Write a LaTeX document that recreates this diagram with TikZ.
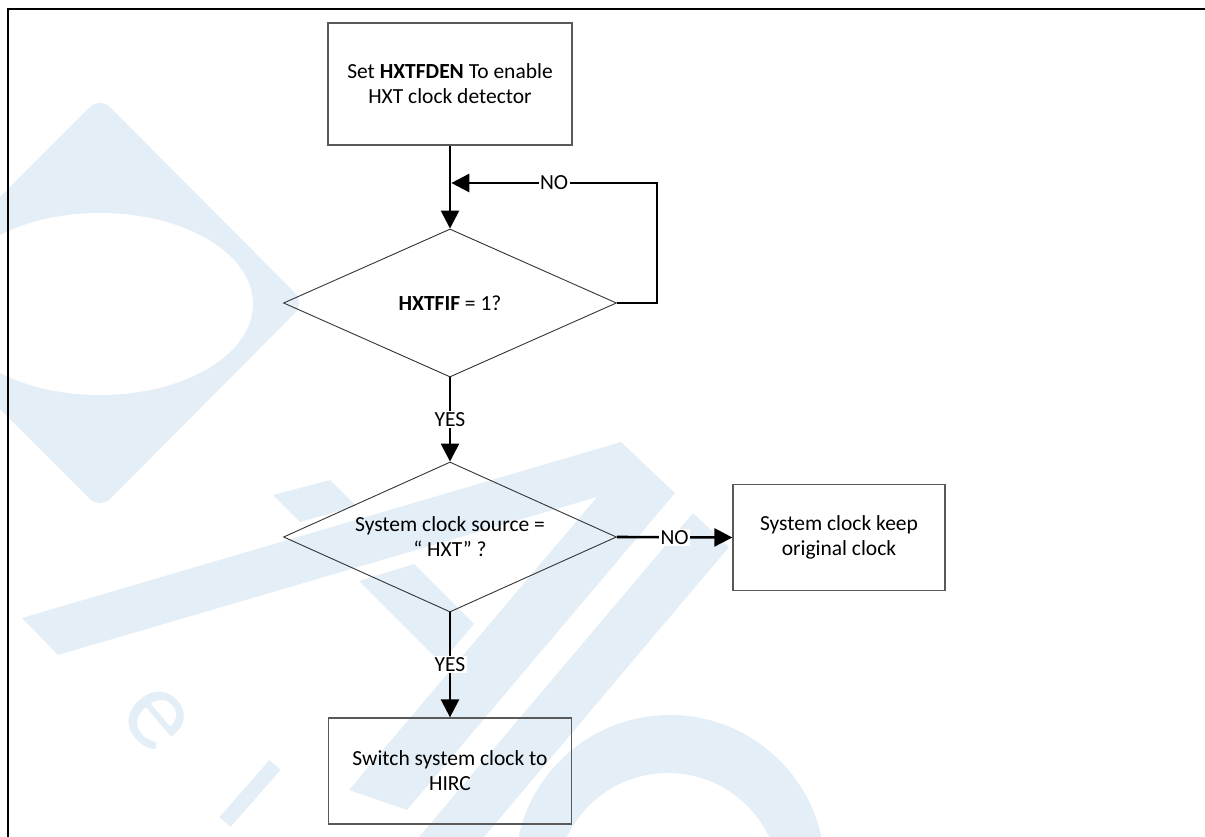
\documentclass[tikz,border=0pt]{standalone}
\usepackage{fontspec}
\setmainfont{Carlito}
\usetikzlibrary{shapes.geometric,arrows.meta}
\definecolor{wmblue}{RGB}{228,238,247}
\begin{document}
\begin{tikzpicture}[x=1pt,y=-1pt,
  every node/.style={font=\fontsize{21.5}{25}\selectfont},
  procbox/.style={draw=black!65,line width=1.3pt,rectangle,align=center,inner sep=0pt},
  decbox/.style={draw=black!80,line width=0.9pt,diamond,align=center,inner sep=0pt,aspect=2.25},
  conn/.style={line width=2.6pt,-{Triangle[length=18pt,width=18pt]}},
  lbl/.style={fill=white,inner sep=1.5pt},
  wmfill/.style={fill=wmblue}
]
\useasboundingbox (0,0) rectangle (1205,837);
% watermark
\begin{scope}
  \clip (0,0) rectangle (1205,837);
  \fill[wmfill, rounded corners=14pt] (100,97) -- (305,303) -- (100,509) -- (-106,303) -- cycle;
  \fill[white] (100,304) ellipse [x radius=153pt, y radius=91pt];
  \fill[wmfill] (22,618) -- (621,442) -- (675,493) -- (407,810) -- (349,790) -- (597,497) -- (58,655) -- cycle;
  \fill[wmfill] (693,513) -- (729,547) -- (484,837) -- (419,837) -- cycle;
  \fill[wmfill] (273,495) -- (330,480) -- (356,506) -- (300,522) -- cycle;
  \fill[wmfill] (359,581) -- (414,564) -- (474,624) -- (441,663) -- cycle;
  \fill[wmfill] (219.4,817.1) -- (269.4,760.1) -- (280.6,769.9) -- (230.6,826.9) -- cycle;
  \fill[wmfill, even odd rule] (670,870) circle [radius=155pt] (668,885) circle [radius=112pt];
  \node[text=wmblue, rotate=-50, font=\fontsize{115}{115}\selectfont] (wme) at (156,719) {e};
\end{scope}
% frame
\draw[line width=2.3pt] (8,837) -- (8,9) -- (1205,9);
% nodes
\node[procbox, minimum width=244pt, minimum height=122pt] (b1) at (450,84) {Set \textbf{HXTFDEN} To enable\\HXT clock detector};
\node[decbox, minimum width=333pt, minimum height=148pt] (d1) at (450,303) {\textbf{HXTFIF} = 1?};
\node[decbox, minimum width=333pt, minimum height=150pt] (d2) at (450,537) {System clock source =\\“ HXT” ?};
\node[procbox, minimum width=212pt, minimum height=106pt] (b2) at (839,537.5) {System clock keep\\original clock};
\node[procbox, minimum width=243pt, minimum height=106pt] (b3) at (450,771) {Switch system clock to\\HIRC};
% connectors
\coordinate (j) at (451.3,183);
\coordinate (r) at (657,183);
\draw[conn] (b1.south) -- (d1.north);
\draw[conn] (d1.east) -| (r) -- node[lbl]{NO} (j);
\draw[conn] (d1.south) -- node[lbl]{YES} (d2.north);
\draw[conn] (d2.east) -- node[lbl]{NO} (b2.west);
\draw[conn] (d2.south) -- node[lbl]{YES} (b3.north);
\end{tikzpicture}
\end{document}
